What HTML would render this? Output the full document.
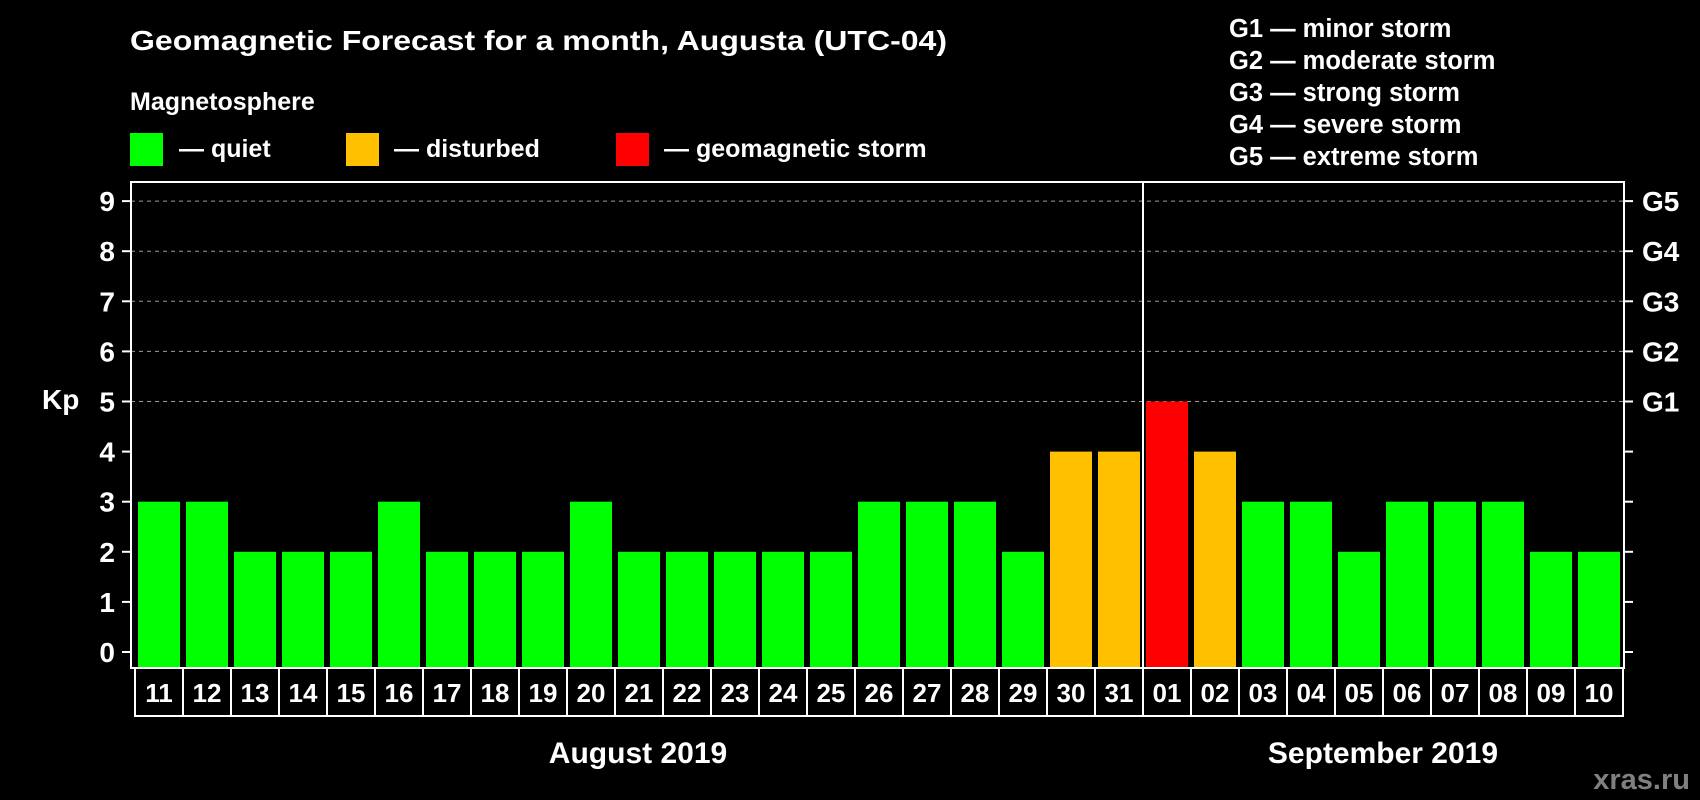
<!DOCTYPE html>
<html><head><meta charset="utf-8"><style>
html,body{margin:0;padding:0;background:#000;}
svg{display:block;font-family:"Liberation Sans",Arial,sans-serif;font-weight:bold;}
</style></head><body>
<svg id="chart" width="1700" height="800" viewBox="0 0 1700 800" xmlns="http://www.w3.org/2000/svg">
<rect x="0" y="0" width="1700" height="800" fill="#000"/>
<text x="130" y="50" fill="#fff" font-size="28" textLength="817" lengthAdjust="spacingAndGlyphs">Geomagnetic Forecast for a month, Augusta (UTC-04)</text>
<text x="130" y="110" fill="#fff" font-size="25">Magnetosphere</text>
<rect x="130" y="133" width="33" height="33" fill="#00ff00"/>
<text x="179" y="157" fill="#fff" font-size="25">— quiet</text>
<rect x="346" y="133" width="33" height="33" fill="#ffc000"/>
<text x="394" y="157" fill="#fff" font-size="25">— disturbed</text>
<rect x="616" y="133" width="33" height="33" fill="#ff0000"/>
<text x="664" y="157" fill="#fff" font-size="25">— geomagnetic storm</text>
<g fill="#fff" font-size="25.5">
<text x="1229" y="37">G1 — minor storm</text>
<text x="1229" y="69">G2 — moderate storm</text>
<text x="1229" y="101">G3 — strong storm</text>
<text x="1229" y="133">G4 — severe storm</text>
<text x="1229" y="165">G5 — extreme storm</text>
</g>
<text x="42" y="409" fill="#fff" font-size="28">Kp</text>
<g id="plot"></g>
<text x="638" y="763" fill="#fff" font-size="30" text-anchor="middle">August 2019</text>
<text x="1383" y="763" fill="#fff" font-size="30" text-anchor="middle">September 2019</text>
<text x="1690" y="789" fill="#808080" font-size="29" text-anchor="end">xras.ru</text>
</svg>
<script>
const days = ["11","12","13","14","15","16","17","18","19","20","21","22","23","24","25","26","27","28","29","30","31","01","02","03","04","05","06","07","08","09","10"];
const kpValues = [3,3,2,2,2,3,2,2,2,3,2,2,2,2,2,3,3,3,2,4,4,5,4,3,3,2,3,3,3,2,2];
const yTicks = [0,1,2,3,4,5,6,7,8,9];
const gLabels = ["G1","G2","G3","G4","G5"];
const monthSplitIndex = 21;

const NS = "http://www.w3.org/2000/svg";
const plot = document.getElementById("plot");
const L = 131, R = 1624, T = 182, B = 668, Y0 = 652, UNIT = 50.1;
const X0 = 138, PITCH = 48, BW = 42;
const y = v => Y0 - v * UNIT;
const x = i => X0 + i * PITCH;
function mk(tag, attrs){const e=document.createElementNS(NS,tag);for(const k in attrs)e.setAttribute(k,attrs[k]);plot.appendChild(e);return e;}
function color(v){return v>=5?"#ff0000":(v>=4?"#ffc000":"#00ff00");}

yTicks.forEach(t=>{
  if(t>=5){
    const g=mk("line",{x1:L,x2:R,y1:y(t),y2:y(t),stroke:"#999","stroke-width":1,"stroke-dasharray":"4,4"});
    
    
  }
  const tl=mk("line",{x1:L-9,x2:L,y1:y(t),y2:y(t),stroke:"#fff","stroke-width":2});
  
  
  const tr=mk("line",{x1:R,x2:R+9,y1:y(t),y2:y(t),stroke:"#fff","stroke-width":2});
  
  
  const lb=mk("text",{x:115,y:y(t)+10,fill:"#fff","font-size":28,"text-anchor":"end"});
  lb.textContent=t;
  
  
});
gLabels.forEach((g,k)=>{
  const lb=mk("text",{x:1642,y:y(5+k)+10,fill:"#fff","font-size":28});
  lb.textContent=g;
  
  
});
kpValues.forEach((v,i)=>{
  const b=mk("rect",{x:x(i),y:y(v),width:BW,height:B-y(v),fill:color(v)});
  
  
});
const fr=mk("rect",{x:L,y:T,width:R-L,height:B-T,fill:"none",stroke:"#fff","stroke-width":2});


const sep=mk("line",{x1:x(monthSplitIndex)-3,x2:x(monthSplitIndex)-3,y1:T,y2:B,stroke:"#fff","stroke-width":2});


days.forEach((d,i)=>{
  const bx=mk("rect",{x:x(i)-3,y:B,width:PITCH,height:48,fill:"none",stroke:"#fff","stroke-width":2});
  
  
  const t=mk("text",{x:x(i)+BW/2,y:702,fill:"#fff","font-size":26,"text-anchor":"middle"});
  t.textContent=d;
  
  
});
</script>
</body></html>
